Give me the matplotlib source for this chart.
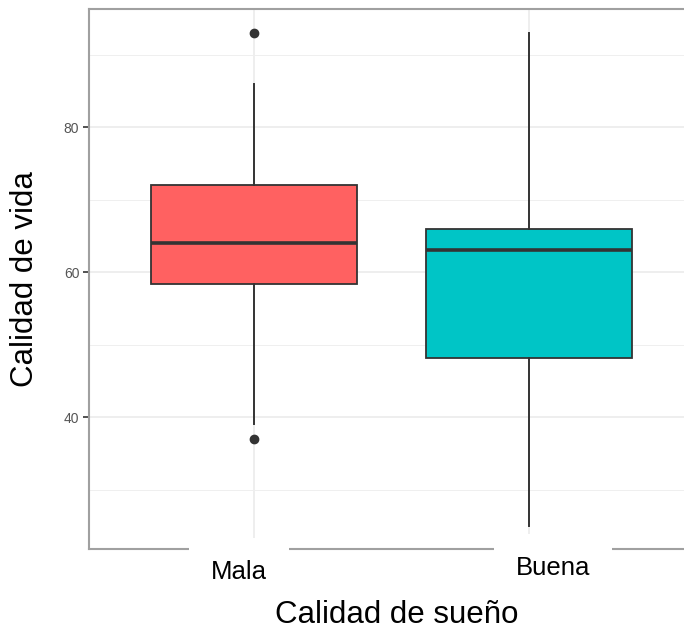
import matplotlib
matplotlib.use("Agg")
import matplotlib.pyplot as plt
import matplotlib.transforms as mtransforms

plt.rcParams['font.family'] = ['Liberation Sans', 'DejaVu Sans']

categories = ["Mala", "Buena"]
whisker_low = [39, 25]
q1 = [58.3, 48.1]
median = [64, 63]
q3 = [72, 66]
whisker_high = [86, 93]
outliers = [[93, 37], []]
colors = ["#FF6161", "#00C5C6"]
label_offsets_px = [(-15, -23), (24, -19)]

W, H, DPI = 6.84, 6.35, 100
fig = plt.figure(figsize=(W, H), dpi=DPI)
left, right, top, bottom = 89, 694, 9, 549
ax = fig.add_axes([left / 684, 1 - bottom / 635, (right - left) / 684, (bottom - top) / 635])

stats = []
for i, c in enumerate(categories):
    stats.append(dict(label=c, whislo=whisker_low[i], q1=q1[i], med=median[i],
                      q3=q3[i], whishi=whisker_high[i], fliers=outliers[i]))

bp = ax.bxp(stats, positions=[1, 2], widths=0.75, patch_artist=True,
            showcaps=False,
            boxprops=dict(edgecolor="#333333", linewidth=1.3),
            medianprops=dict(color="#333333", linewidth=2.6, solid_capstyle="butt"),
            whiskerprops=dict(color="#333333", linewidth=1.4),
            flierprops=dict(marker="o", markerfacecolor="#333333", markeredgecolor="#333333",
                            markersize=6), zorder=3)
for patch, col in zip(bp["boxes"], colors):
    patch.set_facecolor(col)

ax.set_xlim(0.4, 2.6)
ax.set_ylim(21.8, 96.3)
ax.set_yticks([40, 60, 80])
ax.set_yticks([30, 50, 70, 90], minor=True)
ax.set_xticks([1, 2])
ax.set_xticklabels(["", ""])
ax.tick_params(axis="x", length=0)
ax.tick_params(axis="y", which="major", length=4, width=1.2, color="#333333",
               labelsize=10, labelcolor="#555555", pad=3)
ax.tick_params(axis="y", which="minor", length=0)

ax.grid(True, which="major", color="#EDEDED", linewidth=1.3)
ax.grid(True, which="minor", axis="y", color="#EFEFEF", linewidth=0.7)
ax.set_axisbelow(True)

for s in ["left", "top", "bottom", "right"]:
    ax.spines[s].set_color("#A0A0A0")
    ax.spines[s].set_linewidth(1.5)

# category labels with white boxes covering the axis line
for i, c in enumerate(categories):
    dx, dy = label_offsets_px[i]
    tr = mtransforms.blended_transform_factory(ax.transData, ax.transAxes)
    tr = tr + mtransforms.ScaledTranslation(dx / DPI, dy / DPI, fig.dpi_scale_trans)
    ax.text(i + 1, 0, c, transform=tr, ha="center", va="center", fontsize=18.5,
            color="black", zorder=5, clip_on=False,
            bbox=dict(boxstyle="square,pad=0.85", facecolor="white", edgecolor="none"))

fig.text(397 / 684, 1 - 615 / 635, "Calidad de sueño", ha="center", va="center", fontsize=22.5)
fig.text(25 / 684, 1 - 279 / 635, "Calidad de vida", ha="center", va="center",
         rotation=90, fontsize=22.5)

fig.savefig("out.png", dpi=DPI)
